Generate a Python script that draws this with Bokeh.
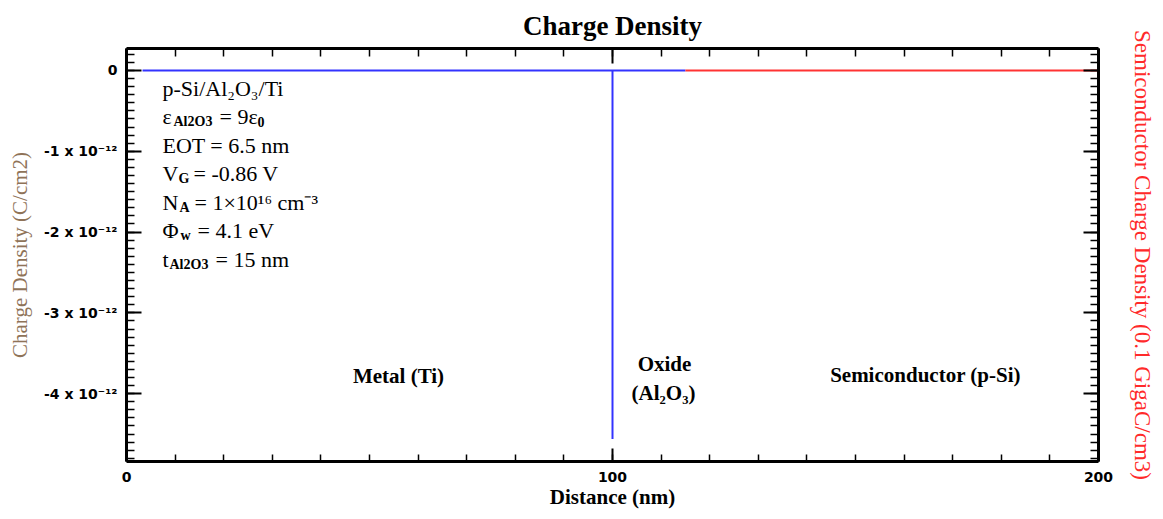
from bokeh.plotting import figure
from bokeh.models import (Label, Range1d, LinearAxis, FixedTicker, ColumnDataSource,
                          CustomLabelingPolicy)
from bokeh.embed import file_html
from bokeh.resources import INLINE

# ---------------- data ----------------
# left-axis series (metal + oxide), C/cm2
left_x = [3.3, 100.0, 100.0, 100.0, 115.0]
left_y = [0.0, 0.0, -4.56e-12, 0.0, 0.0]
# right-axis series (semiconductor), 0.1 GigaC/cm3
semi_x = [115.0, 200.0]
semi_y = [0.0, 0.0]

y_ticks = [0, -1e-12, -2e-12, -3e-12, -4e-12]
y_tick_labels = ["0", "-1 x 10⁻¹²", "-2 x 10⁻¹²", "-3 x 10⁻¹²", "-4 x 10⁻¹²"]
x_ticks = [0, 100, 200]

# ---------------- layout ----------------
X0, X1 = 0.0, 200.0
Y0, Y1 = -4.84e-12, 0.272e-12
S0, S1 = -4.84, 0.272
FRAME_L, FRAME_T, FRAME_W, FRAME_H = 127, 48, 972, 413  # page pixels


def px2x(px):
    return X0 + (px - FRAME_L) / FRAME_W * (X1 - X0)


def py2y(py):
    return Y1 - (py - FRAME_T) / FRAME_H * (Y1 - Y0)


p = figure(width=1157, height=513, x_range=Range1d(X0, X1), y_range=Range1d(Y0, Y1),
           output_backend="svg", toolbar_location=None,
           min_border_left=126, min_border_right=59, min_border_top=48, min_border_bottom=52,
           title="Charge Density")
p.extra_y_ranges = {"semi": Range1d(S0, S1)}
p.xgrid.visible = False
p.ygrid.visible = False
p.outline_line_color = None
p.background_fill_color = "white"
p.border_fill_color = "white"

p.title.align = "center"
p.title.text_font = "Liberation Serif"
p.title.text_font_style = "bold"
p.title.text_font_size = "27px"
p.title.text_color = "black"
p.title.standoff = 16

TICK_FONT = "DejaVu Sans"


def style_axis(ax, tick_in, minor_in):
    ax.axis_line_width = 3
    ax.axis_line_color = "black"
    ax.major_tick_in = tick_in
    ax.major_tick_out = 0
    ax.minor_tick_in = minor_in
    ax.minor_tick_out = 0
    ax.major_tick_line_width = 2
    ax.minor_tick_line_width = 1.5
    ax.major_tick_line_color = "black"
    ax.minor_tick_line_color = "black"
    ax.major_label_text_font = TICK_FONT
    ax.major_label_text_font_style = "bold"
    ax.major_label_text_font_size = "14px"
    ax.major_label_text_color = "black"


def hide_labels(ax):
    ax.major_label_text_font_size = "0px"
    ax.major_label_standoff = 0
    ax.major_label_policy = CustomLabelingPolicy(code="if (false) yield 0")


yticker = FixedTicker(ticks=y_ticks,
                      minor_ticks=[(-48 + i) * 1e-13 for i in range(0, 51)])
sticker = FixedTicker(ticks=[0, -1, -2, -3, -4],
                      minor_ticks=[(-48 + i) * 0.1 for i in range(0, 51)])
xticker = FixedTicker(ticks=x_ticks, minor_ticks=list(range(0, 201, 10)))

# left axis
ly = p.yaxis[0]
ly.ticker = yticker
style_axis(ly, 15, 8)
ly.major_label_overrides = {t: l for t, l in zip(y_ticks, y_tick_labels)}
ly.major_label_standoff = 9
ly.axis_label = "Charge Density (C/cm2)"
ly.axis_label_text_font = "Liberation Serif"
ly.axis_label_text_font_style = "normal"
ly.axis_label_text_font_size = "21px"
ly.axis_label_text_color = "#8f7358"
ly.axis_label_standoff = 9

# bottom axis
bx = p.xaxis[0]
bx.ticker = xticker
style_axis(bx, 13, 7)
bx.major_label_standoff = 10
bx.axis_label = "Distance (nm)"
bx.axis_label_text_font = "Liberation Serif"
bx.axis_label_text_font_style = "bold"
bx.axis_label_text_font_size = "21px"
bx.axis_label_text_color = "black"
bx.axis_label_standoff = 0

# top axis (mirror, no labels)
tx = LinearAxis(ticker=xticker)
style_axis(tx, 15, 8)
hide_labels(tx)
p.add_layout(tx, "above")

# right axis (semiconductor)
ry = LinearAxis(y_range_name="semi", ticker=sticker)
style_axis(ry, 15, 8)
hide_labels(ry)
ry.axis_label = "Semiconductor Charge Density (0.1 GigaC/cm3)"
ry.axis_label_text_font = "Liberation Serif"
ry.axis_label_text_font_style = "normal"
ry.axis_label_text_font_size = "23px"
ry.axis_label_text_color = "#ff2a2a"
ry.axis_label_standoff = 31
p.add_layout(ry, "right")

# ---------------- data lines ----------------
p.line("x", "y", source=ColumnDataSource(dict(x=left_x, y=left_y)),
       line_color="#3333ff", line_width=2)
p.line("x", "y", source=ColumnDataSource(dict(x=semi_x, y=semi_y)),
       line_color="#ff3333", line_width=2, y_range_name="semi")

# ---------------- annotation ----------------
SERIF = "Liberation Serif"
BIG, SUB = "22px", "14px"
DY = -8  # baseline correction
ann = [
    ("p-Si/Al₂O₃/Ti", 163, 96, BIG, "normal"),
    ("ε", 163, 124, BIG, "normal"), ("Al2O3", 174, 129, SUB, "bold"),
    ("= 9ε", 220, 124, BIG, "normal"), ("0", 258, 129, SUB, "bold"),
    ("EOT = 6.5 nm", 163, 153, BIG, "normal"),
    ("V", 163, 181, BIG, "normal"), ("G", 179, 186, SUB, "bold"),
    ("= -0.86 V", 194, 181, BIG, "normal"),
    ("N", 163, 210, BIG, "normal"), ("A", 180, 215, SUB, "bold"),
    ("= 1×10¹⁶ cm⁻³", 195, 210, BIG, "normal"),
    ("Φ", 163, 238, BIG, "normal"), ("w", 181, 243, SUB, "bold"),
    ("= 4.1 eV", 198, 238, BIG, "normal"),
    ("t", 163, 267, BIG, "normal"), ("Al2O3", 170, 272, SUB, "bold"),
    ("= 15 nm", 216, 267, BIG, "normal"),
]
for txt, px, py, size, style in ann:
    p.add_layout(Label(x=px2x(px), y=py2y(py + DY), text=txt, text_font=SERIF,
                       text_font_size=size, text_font_style=style, text_color="black",
                       text_align="left", text_baseline="alphabetic"))

regions = [
    ("Metal (Ti)", 399, 375),
    ("Oxide", 665, 363),
    ("(Al₂O₃)", 664, 392),
    ("Semiconductor (p-Si)", 926, 374),
]
for txt, px, py in regions:
    p.add_layout(Label(x=px2x(px), y=py2y(py), text=txt, text_font=SERIF,
                       text_font_size="21px", text_font_style="bold", text_color="black",
                       text_align="center", text_baseline="middle"))

open("out.html", "w").write(file_html(p, INLINE))
